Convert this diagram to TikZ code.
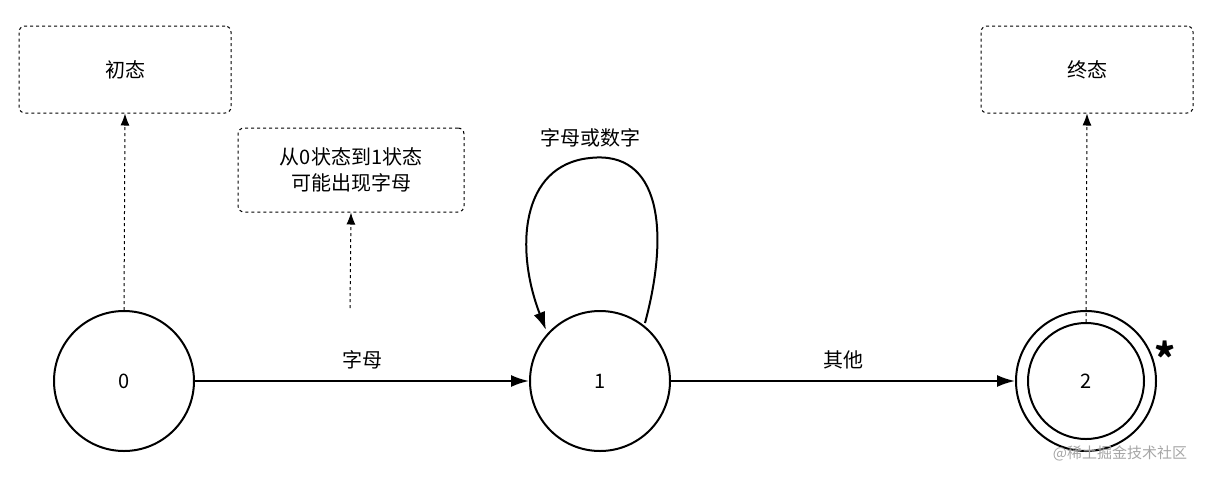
\documentclass[tikz,border=0pt]{standalone}
\usepackage{fontspec}
\setmainfont{Noto Sans CJK SC}
\usetikzlibrary{arrows.meta}
\begin{document}
\begin{tikzpicture}[x=1pt,y=-1pt,
  state/.style={circle,draw,line width=2pt,minimum size=140pt,inner sep=0pt,font=\fontsize{20}{24}\selectfont},
  note/.style={draw,dashed,line width=1pt,rounded corners=6pt,inner sep=0pt,font=\fontsize{20}{26}\selectfont,align=center},
  lbl/.style={font=\fontsize{20}{24}\selectfont},
  arr/.style={line width=2pt,-{Latex[length=18pt,width=12pt]}},
  darr/.style={dashed,line width=1pt,-{Latex[length=12pt,width=9pt]}}]
\useasboundingbox (0,0) rectangle (1216,480);
\node[state] (s0) at (124,381) {0};
\node[state] (s1) at (600,381) {1};
\node[state] (s2) at (1086,381) {};
\node[circle,draw,line width=2pt,minimum size=116pt,inner sep=0pt,font=\fontsize{20}{24}\selectfont] (s2i) at (1086,381) {2};
\node[note,minimum width=212pt,minimum height=87pt] (b0) at (125,69.5) {初态};
\node[note,minimum width=212pt,minimum height=87pt] (b2) at (1087,69.5) {终态};
\node[note,minimum width=226pt,minimum height=84pt] (bn) at (351,170) {从0状态到1状态\\可能出现字母};
\coordinate (n0) at (350,308);
\draw[darr] (s0.north) -- (b0.south);
\draw[darr] (n0) -- (bn.south);
\draw[darr] (s2i.north) -- (b2.south);
\draw[arr] (s0.east) -- node[lbl,above=8pt]{字母} (s1.west);
\draw[arr] (s1.east) -- node[lbl,above=8pt]{其他} (s2.west);
\coordinate (la) at (645,323);
\coordinate (lb) at (546,330);
\draw[arr] (la) .. controls (670,230) and (660,150) .. (590,158) .. controls (520,165) and (515,250) .. (lb);
\node[lbl] (l1) at (590,138) {字母或数字};
\node[font=\fontsize{40}{40}\selectfont\bfseries] (ast) at (1165,357) {*};
\node[font=\fontsize{15}{18}\selectfont,text=black!35] (wm) at (1120,453) {@稀土掘金技术社区};
\end{tikzpicture}
\end{document}
